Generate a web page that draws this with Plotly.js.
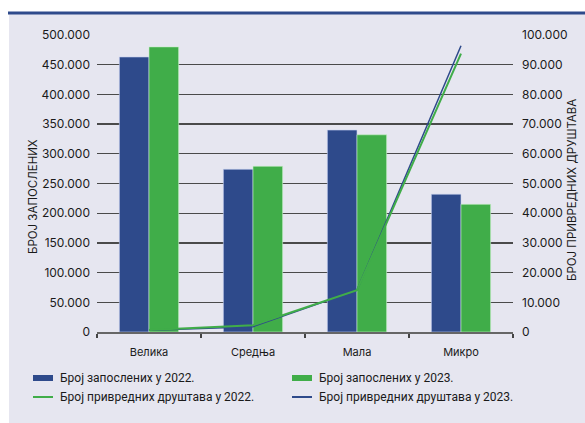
<!DOCTYPE html>
<html>
<head>
<meta charset="utf-8">
<script src="https://cdn.plot.ly/plotly-3.0.1.min.js"></script>
<style>html,body{margin:0;padding:0;background:#fff;}#chart{width:585px;height:423px;}</style>
</head>
<body>
<div id="chart"></div>
<script>
const categories = ['Велика', 'Средња', 'Мала', 'Микро'];
const employees2022 = [463000, 274000, 340000, 232000];
const employees2023 = [480000, 279000, 332000, 215000];
const companies2022 = [700, 2300, 14100, 93700];
const companies2023 = [600, 1800, 14100, 96400];
const leftTicks = [0, 50000, 100000, 150000, 200000, 250000, 300000, 350000, 400000, 450000, 500000];
const rightTicks = [0, 10000, 20000, 30000, 40000, 50000, 60000, 70000, 80000, 90000, 100000];
const seriesNames = ['Број запослених у 2022.', 'Број запослених у 2023.',
                     'Број привредних друштава у 2022.', 'Број привредних друштава у 2023.'];
const leftTitle = 'БРОЈ ЗАПОСЛЕНИХ';
const rightTitle = 'БРОЈ ПРИВРЕДНИХ ДРУШТАВА';

const BLUE = '#2e4a8b';
const GREEN = '#40ad49';
const FONT = 'Inter, "Open Sans", sans-serif';
const LFONT = 'Roboto, Inter, sans-serif';

const traces = [
  {type: 'bar', x: categories, y: employees2022, name: seriesNames[0],
   marker: {color: BLUE, line: {color: 'rgba(200,210,240,0.6)', width: 1}}},
  {type: 'bar', x: categories, y: employees2023, name: seriesNames[1],
   marker: {color: GREEN, line: {color: 'rgba(200,240,200,0.6)', width: 1}}},
  {type: 'scatter', mode: 'lines', x: categories, y: companies2023, yaxis: 'y2',
   name: seriesNames[3], line: {color: BLUE, width: 1.5}},
  {type: 'scatter', mode: 'lines', x: categories, y: companies2022, yaxis: 'y2',
   name: seriesNames[2], line: {color: GREEN, width: 2}}
];

const W = 416, H = 297;
function px(x){ return (x - 97) / W; }
function py(y){ return (332 - y) / H; }

// manual legend (two columns)
const legendItems = [
  {name: seriesNames[0], kind: 'bar',  color: BLUE,  x: 33,  y: 378},
  {name: seriesNames[1], kind: 'bar',  color: GREEN, x: 292, y: 378},
  {name: seriesNames[2], kind: 'line', color: GREEN, x: 33,  y: 397},
  {name: seriesNames[3], kind: 'line', color: BLUE,  x: 292, y: 397}
];
const legendShapes = legendItems.map(it => it.kind === 'bar'
  ? {type: 'rect', xref: 'paper', yref: 'paper', x0: px(it.x), x1: px(it.x + 20),
     y0: py(it.y + 3), y1: py(it.y - 3), fillcolor: it.color, line: {width: 0}}
  : {type: 'line', xref: 'paper', yref: 'paper', x0: px(it.x), x1: px(it.x + 20),
     y0: py(it.y), y1: py(it.y), line: {color: it.color, width: 2}});
const legendAnn = legendItems.map(it => ({
  xref: 'paper', yref: 'paper', x: px(it.x + 25), y: py(it.y), xanchor: 'left', yanchor: 'middle',
  text: it.name, showarrow: false, font: {size: 12, family: LFONT, color: '#1a1a1a'}
}));
const titleAnn = [
  {xref: 'paper', yref: 'paper', x: px(33), y: py(197), xanchor: 'center', yanchor: 'middle',
   text: leftTitle, textangle: -90, showarrow: false, font: {size: 11.5, family: FONT, color: '#1a1a1a'}},
  {xref: 'paper', yref: 'paper', x: px(572), y: py(190), xanchor: 'center', yanchor: 'middle',
   text: rightTitle, textangle: -90, showarrow: false, font: {size: 11.5, family: FONT, color: '#1a1a1a'}}
];

const layout = {
  width: 585, height: 423,
  margin: {l: 97, r: 72, t: 35, b: 91},
  paper_bgcolor: '#ffffff',
  plot_bgcolor: 'rgba(0,0,0,0)',
  font: {family: FONT, color: '#1a1a1a', size: 12},
  barmode: 'group', bargap: 0.43, bargroupgap: 0,
  showlegend: false,
  xaxis: {type: 'category', tickson: 'boundaries', ticks: 'outside', ticklen: 4, tickcolor: '#444', tickwidth: 1.5,
          showline: true, linecolor: '#666', linewidth: 1.5, showgrid: false,
          tickfont: {size: 11, family: FONT}, ticklabelstandoff: 9},
  yaxis: {range: [0, 500000], tickvals: leftTicks, tickformat: ',d', showgrid: true,
          gridcolor: '#4a4a4a', gridwidth: 1.3, zeroline: false, showline: false, ticks: '',
          tickfont: {size: 12, family: FONT}, ticklabelstandoff: 6},
  yaxis2: {range: [0, 100000], tickvals: rightTicks, tickformat: ',d', overlaying: 'y', side: 'right',
           showgrid: false, zeroline: false, showline: false, ticks: '',
           tickfont: {size: 12, family: FONT}, ticklabelstandoff: 8},
  separators: ',.',
  shapes: [
    {type: 'rect', xref: 'paper', yref: 'paper', x0: px(9), x1: px(590), y0: py(430), y1: py(13),
     fillcolor: '#e6e6f0', line: {width: 0}, layer: 'below'},
    {type: 'line', xref: 'paper', yref: 'paper', x0: px(8), x1: px(590), y0: py(13), y1: py(13),
     line: {color: BLUE, width: 3}, layer: 'below'}
  ].concat(legendShapes),
  annotations: legendAnn.concat(titleAnn)
};

Plotly.newPlot('chart', traces, layout, {displayModeBar: false, staticPlot: true});
</script>
</body>
</html>
